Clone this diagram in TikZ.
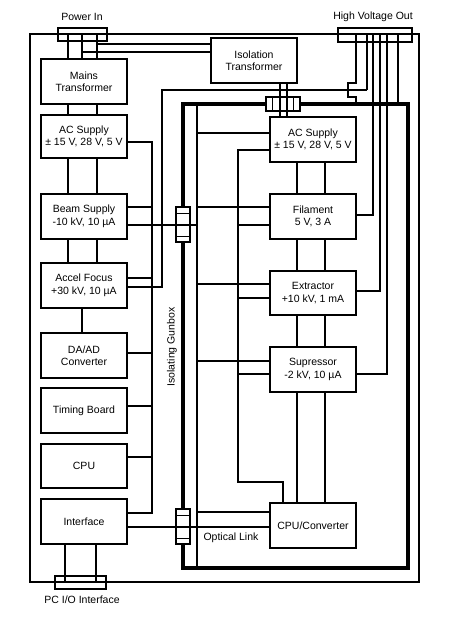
\documentclass[tikz,border=0pt]{standalone}
\usepackage{fontspec}
\setmainfont{Liberation Sans}
\usetikzlibrary{calc}
\begin{document}
\begin{tikzpicture}[x=1pt,y=-1pt,
  box/.style={draw,line width=1.1pt,fill=white,minimum width=86pt,minimum height=45pt,inner sep=0pt,align=center,font=\fontsize{10.5}{12.5}\selectfont},
  conn/.style={draw,line width=1.1pt,inner sep=0pt},
  wire/.style={line width=1.2pt},
  hv/.style={line width=2.4pt},
  frame/.style={line width=2pt},
  gun/.style={line width=4pt},
  lbl/.style={font=\fontsize{10.5}{12.5}\selectfont,inner sep=0pt}]
\useasboundingbox (0,0) rectangle (450,619);

% columns
\coordinate (xA) at (68,0);  \coordinate (xB) at (82,0);  \coordinate (xC) at (97,0);
\coordinate (xD) at (65,0);  \coordinate (xE) at (96,0);
\coordinate (xL) at (152,0); \coordinate (xM) at (162,0);
\coordinate (xG) at (197,0); \coordinate (xH) at (238,0); \coordinate (xI) at (283,0);
\coordinate (xJ) at (297,0); \coordinate (xK) at (325,0);
\coordinate (xT1) at (280,0); \coordinate (xT2) at (287,0);
\coordinate (h1) at (356,0); \coordinate (hj) at (348,0); \coordinate (h2) at (367,0);
\coordinate (h3) at (373,0); \coordinate (h4) at (380,0); \coordinate (h5) at (387,0);
\coordinate (h6) at (398,0);
% rows
\foreach \r in {44,52,83,90,97,104,133,142,150,207,215,225,278,284,287,291,298,353,361,374,406,457,482,512,513,527,568}
  \coordinate (r\r) at (0,\r);

% frames
\draw[frame] (30,34) rectangle (419,582);
\draw[gun] (183,104) rectangle (408,568);

% boxes
\node[box] (mains) at (84,81.5) {Mains\\Transformer};
\node[box,minimum height=43pt] (acl) at (84,136.5) {AC Supply\\± 15 V, 28 V, 5 V};
\node[box] (beam) at (84,216.5) {Beam Supply\\-10 kV, 10 µA};
\node[box] (accel) at (84,285.5) {Accel Focus\\+30 kV, 10 µA};
\node[box] (daad) at (84,355.5) {DA/AD\\Converter};
\node[box] (timing) at (84,410.5) {Timing Board};
\node[box,minimum height=44pt] (cpu) at (84,466) {CPU};
\node[box] (iface) at (84,521.5) {Interface};
\node[box] (iso) at (254,60.5) {Isolation\\Transformer};
\node[box] (acr) at (313,139.5) {AC Supply\\± 15 V, 28 V, 5 V};
\node[box] (fil) at (313,216.5) {Filament\\5 V, 3 A};
\node[box,minimum height=44pt] (ext) at (313,293) {Extractor\\+10 kV, 1 mA};
\node[box] (sup) at (313,369.5) {Supressor\\-2 kV, 10 µA};
\node[box] (cpuc) at (313,525.5) {CPU/Converter};

% outer connectors
\node[conn,minimum width=49pt,minimum height=13pt] (pin) at (82.5,34.5) {};
\node[conn,minimum width=51pt,minimum height=13pt] (pcio) at (80.5,582.5) {};
\node[conn,minimum width=74pt,minimum height=14pt] (hvo) at (375,35) {};
% gunbox connectors
\node[conn,fill=white,minimum width=34pt,minimum height=14pt] (gtop) at (283,104) {};
\draw[wire] ([xshift=7pt]gtop.north west) -- ([xshift=7pt]gtop.south west);
\draw[wire] ([xshift=-7pt]gtop.north east) -- ([xshift=-7pt]gtop.south east);
\node[conn,fill=white,minimum width=14pt,minimum height=35pt] (gl1) at (183,224.5) {};
\draw[wire] ([yshift=-7pt]gl1.north west) -- ([yshift=-7pt]gl1.north east);
\draw[wire] ([yshift=6pt]gl1.south west) -- ([yshift=6pt]gl1.south east);
\node[conn,fill=white,minimum width=14pt,minimum height=35pt] (gl2) at (183,526.5) {};
\draw[wire] ([yshift=-7pt]gl2.north west) -- ([yshift=-7pt]gl2.north east);
\draw[wire] ([yshift=6pt]gl2.south west) -- ([yshift=6pt]gl2.south east);

% power in
\foreach \c in {xA,xB,xC} \draw[wire] (pin.center -| \c) -- (mains.north -| \c);
\draw[wire] (xC |- r44) -- (iso.west |- r44);
\draw[wire] (xB |- r52) -- (iso.west |- r52);
% left column links
\foreach \c in {xA,xC} {
  \draw[wire] (mains.south -| \c) -- (acl.north -| \c);
  \draw[wire] (acl.south -| \c) -- (beam.north -| \c);
  \draw[wire] (beam.south -| \c) -- (accel.north -| \c);
}
\draw[wire] (accel.south -| xB) -- (daad.north -| xB);
\foreach \c in {xD,xE} \draw[wire] (iface.south -| \c) -- (pcio.center -| \c);
% left bus
\draw[wire] (acl.east |- r142) -- (xL |- r142) -- (xL |- r513) -- (iface.east |- r513);
\draw[wire] (beam.east |- r207) -- (xL |- r207);
\draw[wire] (accel.east |- r278) -- (xL |- r278);
\draw[wire] (daad.east |- r353) -- (xL |- r353);
\draw[wire] (timing.east |- r406) -- (xL |- r406);
\draw[wire] (cpu.east |- r457) -- (xL |- r457);
% accel focus to HV out
\draw[wire] (accel.east |- r287) -- (xM |- r287) -- (xM |- r90) -- (h2 |- r90);
\draw[hv] (h2 |- r90) -- (hvo.center -| h2);
% links through gunbox
\draw[wire] (beam.east |- r225) -- (xG |- r225);
\draw[wire] (iface.east |- r527) -- (cpuc.west |- r527);
\foreach \c in {xT1,xT2} \draw[wire] (iso.south -| \c) -- (acr.north -| \c);
% inner bus
\draw[wire] (xG |- r104) -- (xG |- r568);
\draw[wire] (xG |- r133) -- (acr.west |- r133);
\draw[wire] (xG |- r207) -- (fil.west |- r207);
\draw[wire] (xG |- r284) -- (ext.west |- r284);
\draw[wire] (xG |- r361) -- (sup.west |- r361);
\draw[wire] (xG |- r512) -- (cpuc.west |- r512);
% second inner bus
\draw[wire] (acr.west |- r150) -- (xH |- r150) -- (xH |- r482) -- (xI |- r482) -- (cpuc.north -| xI);
\draw[wire] (xH |- r225) -- (fil.west |- r225);
\draw[wire] (xH |- r298) -- (ext.west |- r298);
\draw[wire] (xH |- r374) -- (sup.west |- r374);
% right column links
\foreach \c in {xJ,xK} {
  \draw[wire] (acr.south -| \c) -- (fil.north -| \c);
  \draw[wire] (fil.south -| \c) -- (ext.north -| \c);
  \draw[wire] (ext.south -| \c) -- (sup.north -| \c);
  \draw[wire] (sup.south -| \c) -- (cpuc.north -| \c);
}
% high voltage lines
\draw[hv] (hvo.center -| h1) -- (h1 |- r83) -- (hj |- r83) -- (hj |- r97) -- (h1 |- r97) -- (h1 |- r104);
\draw[hv] (hvo.center -| h3) -- (h3 |- r215) -- (fil.east |- r215);
\draw[hv] (hvo.center -| h4) -- (h4 |- r291) -- (ext.east |- r291);
\draw[hv] (hvo.center -| h5) -- (h5 |- r374) -- (sup.east |- r374);
\draw[hv] (hvo.center -| h6) -- (h6 |- r104);

% labels
\node[lbl] (tpin) at (82,17) {Power In};
\node[lbl] (thv) at (373,17) {High Voltage Out};
\node[lbl] (tpc) at (82,600) {PC I/O Interface};
\node[lbl,rotate=90] (tgun) at (172,347) {Isolating Gunbox};
\node[lbl] (topt) at (231,538) {Optical Link};
\end{tikzpicture}
\end{document}
